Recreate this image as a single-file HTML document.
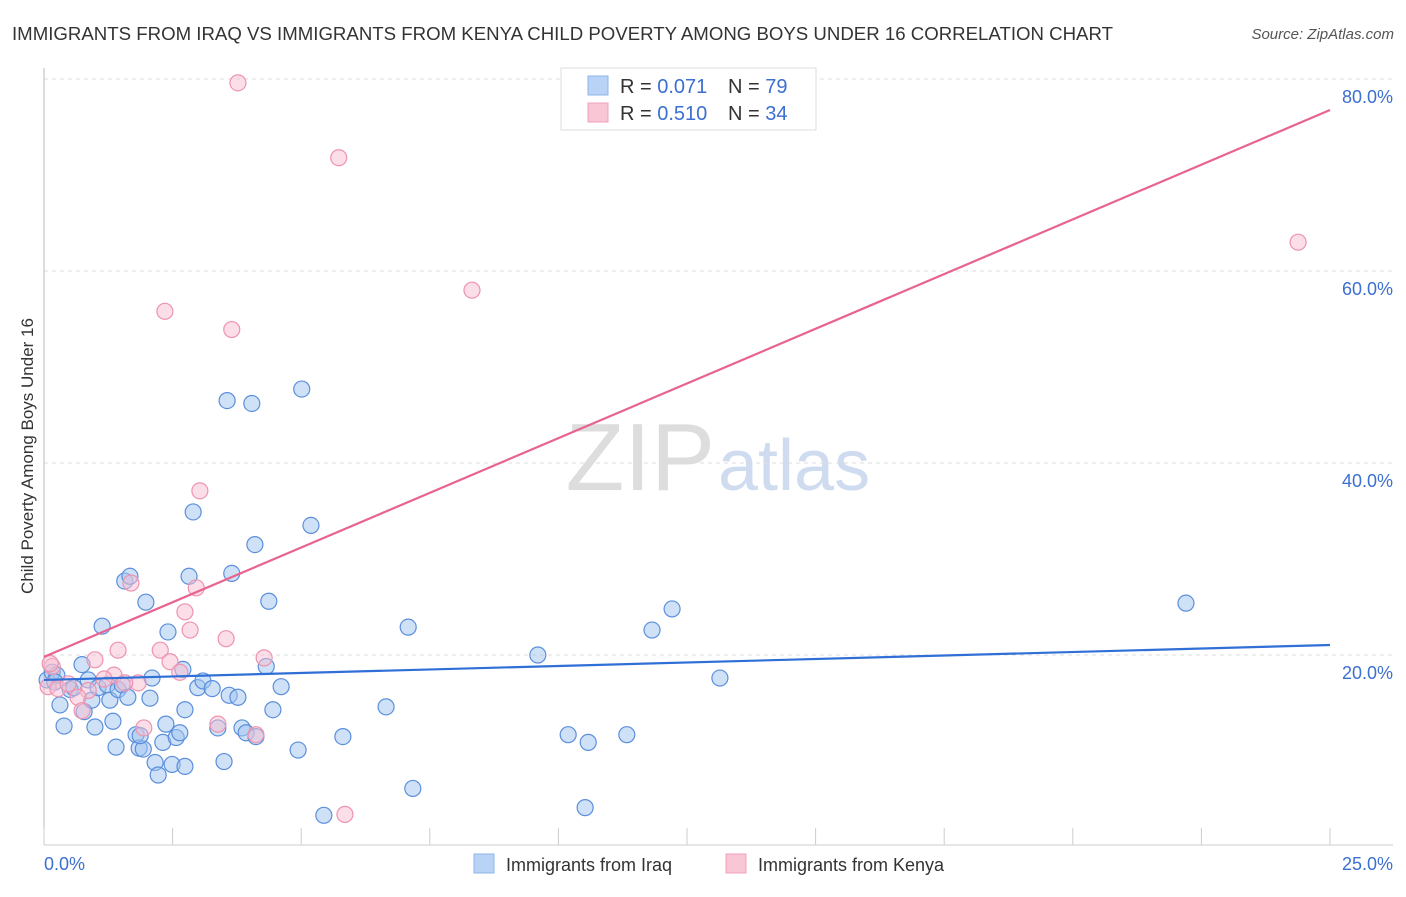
<!DOCTYPE html>
<html><head><meta charset="utf-8"><style>
body{margin:0;background:#fff;font-family:"Liberation Sans",sans-serif}
svg text{font-family:"Liberation Sans",sans-serif}
</style></head><body>
<svg width="1406" height="892" id="chart">
<text x="12" y="40" font-size="18" fill="#333" textLength="1101" lengthAdjust="spacingAndGlyphs">IMMIGRANTS FROM IRAQ VS IMMIGRANTS FROM KENYA CHILD POVERTY AMONG BOYS UNDER 16 CORRELATION CHART</text>
<text x="1394" y="39" font-size="15" fill="#555" font-style="italic" text-anchor="end">Source: ZipAtlas.com</text>
<text x="33" y="456" font-size="17" fill="#333" text-anchor="middle" transform="rotate(-90 33 456)">Child Poverty Among Boys Under 16</text>
<text x="715" y="490" font-size="96" fill="#ddd" text-anchor="end" font-family="Liberation Serif">ZIP</text>
<text x="718" y="490" font-size="72" fill="#cfdcf0">atlas</text>
<g id="grid"></g><g id="pts"></g><g id="lines"></g>
<g>
<rect x="561" y="68" width="255" height="62" fill="#fff" stroke="#ddd"/>
<rect x="588" y="76" width="20" height="19" fill="#b8d3f5" stroke="#8fb5e8"/>
<rect x="588" y="103" width="20" height="19" fill="#f9c6d5" stroke="#f0a0b8"/>
<text x="620" y="93" font-size="20" fill="#333">R = <tspan fill="#3b6fd1">0.071</tspan></text>
<text x="728" y="93" font-size="20" fill="#333">N = <tspan fill="#3b6fd1">79</tspan></text>
<text x="620" y="120" font-size="20" fill="#333">R = <tspan fill="#3b6fd1">0.510</tspan></text>
<text x="728" y="120" font-size="20" fill="#333">N = <tspan fill="#3b6fd1">34</tspan></text>
</g>
<text x="44" y="870" font-size="18" fill="#3b6fd1">0.0%</text>
<text x="1393" y="870" font-size="18" fill="#3b6fd1" text-anchor="end">25.0%</text>
<g>
<rect x="474" y="854" width="20" height="19" fill="#b8d3f5" stroke="#8fb5e8"/>
<text x="506" y="871" font-size="18" fill="#333">Immigrants from Iraq</text>
<rect x="726" y="854" width="20" height="19" fill="#f9c6d5" stroke="#f0a0b8"/>
<text x="758" y="871" font-size="18" fill="#333">Immigrants from Kenya</text>
</g>
</svg>
<script>
const yTicks=[20,40,60,80];
const yTickLabels=["20.0%","40.0%","60.0%","80.0%"];
const xTicks=[0,2.5,5,7.5,10,12.5,15,17.5,20,22.5,25];
const iraqX=[0.06,0.16,0.25,0.31,0.39,0.51,0.58,0.74,0.78,0.86,0.93,0.99,1.05,1.13,1.23,1.28,1.34,1.4,1.44,1.52,1.57,1.63,1.67,1.79,1.85,1.93,1.98,2.06,2.1,2.16,2.22,2.31,2.37,2.41,2.49,2.57,2.64,2.7,2.74,2.82,2.9,2.99,3.09,3.27,3.38,3.5,3.56,3.6,3.65,3.77,3.85,3.93,4.04,4.1,4.12,4.32,4.37,4.45,4.61,4.94,5.01,5.19,5.44,5.81,6.65,7.08,7.17,9.6,10.19,10.52,10.58,11.33,11.82,12.21,13.14,22.2,0.21,1.87,2.74];
const iraqY=[17.4,18.2,17.9,14.8,12.6,16.4,16.6,19.0,14.1,17.4,15.3,12.5,16.6,23.0,16.9,15.3,13.1,10.4,16.4,16.9,27.7,15.6,28.2,11.7,10.3,10.2,25.5,15.5,17.6,8.8,7.5,10.9,12.8,22.4,8.6,11.4,11.9,18.5,8.4,28.2,34.9,16.6,17.3,16.5,12.4,8.9,46.5,15.8,28.5,15.6,12.4,11.9,46.2,31.5,11.5,18.8,25.6,14.3,16.7,10.1,47.7,33.5,3.3,11.5,14.6,22.9,6.1,20.0,11.7,4.1,10.9,11.7,22.6,24.8,17.6,25.4,17.2,11.6,14.3];
const kenyaX=[3.77,5.73,24.38,8.32,2.35,3.65,3.03,1.69,2.96,2.74,2.84,3.54,1.44,2.26,4.28,0.99,2.45,2.64,1.36,1.83,1.17,0.16,0.08,0.27,0.47,0.86,0.66,0.74,1.94,3.38,4.12,5.85,1.57,0.12];
const kenyaY=[79.6,71.8,63.0,58.0,55.8,53.9,37.1,27.5,27.0,24.5,22.6,21.7,20.5,20.5,19.7,19.5,19.3,18.2,17.9,17.1,17.5,18.8,16.7,16.5,17.0,16.3,15.6,14.2,12.4,12.8,11.7,3.4,17.1,19.1];
const iraqFit=[17.4,21.04];
const kenyaFit=[19.8,76.77];
const X=v=>44+v/25*1286, Y=v=>847-v*9.6;
const NS="http://www.w3.org/2000/svg";
function mk(t,a,p){const e=document.createElementNS(NS,t);for(const k in a)e.setAttribute(k,a[k]);p.appendChild(e);return e;}
const grid=document.getElementById('grid');
yTicks.forEach((t,i)=>{
 const l=mk('line',{x1:44,x2:1393,y1:Y(t),y2:Y(t),stroke:'#ddd','stroke-dasharray':'4,4'},grid);
 
 
 const tx=mk('text',{x:1393,y:Y(t)+24,'font-size':18,fill:'#3b6fd1','text-anchor':'end'},grid);
 tx.textContent=yTickLabels[i];
 
 
});
const ax=mk('line',{x1:44,x2:44,y1:68,y2:845,stroke:'#bbb'},grid);


const bx=mk('line',{x1:44,x2:1393,y1:845,y2:845,stroke:'#ccc'},grid);


xTicks.forEach(t=>{
 const l=mk('line',{x1:X(t),x2:X(t),y1:828,y2:845,stroke:'#ccc'},grid);
 
 
});
const pts=document.getElementById('pts');
iraqX.forEach((v,i)=>{
 const c=mk('circle',{cx:X(v),cy:Y(iraqY[i]),r:8,fill:'rgba(160,195,240,0.5)',stroke:'#5b8fdc','stroke-width':1.2},pts);
 
 
});
kenyaX.forEach((v,i)=>{
 const c=mk('circle',{cx:X(v),cy:Y(kenyaY[i]),r:8,fill:'rgba(248,190,208,0.5)',stroke:'#ee93b0','stroke-width':1.2},pts);
 
 
});
const lines=document.getElementById('lines');
const bl=mk('line',{x1:X(0),x2:X(25),y1:Y(iraqFit[0]),y2:Y(iraqFit[1]),stroke:'#2f6fd6','stroke-width':2.2},lines);


const pl=mk('line',{x1:X(0),x2:X(25),y1:Y(kenyaFit[0]),y2:Y(kenyaFit[1]),stroke:'#e8638f','stroke-width':2.2},lines);


</script>
</body></html>
